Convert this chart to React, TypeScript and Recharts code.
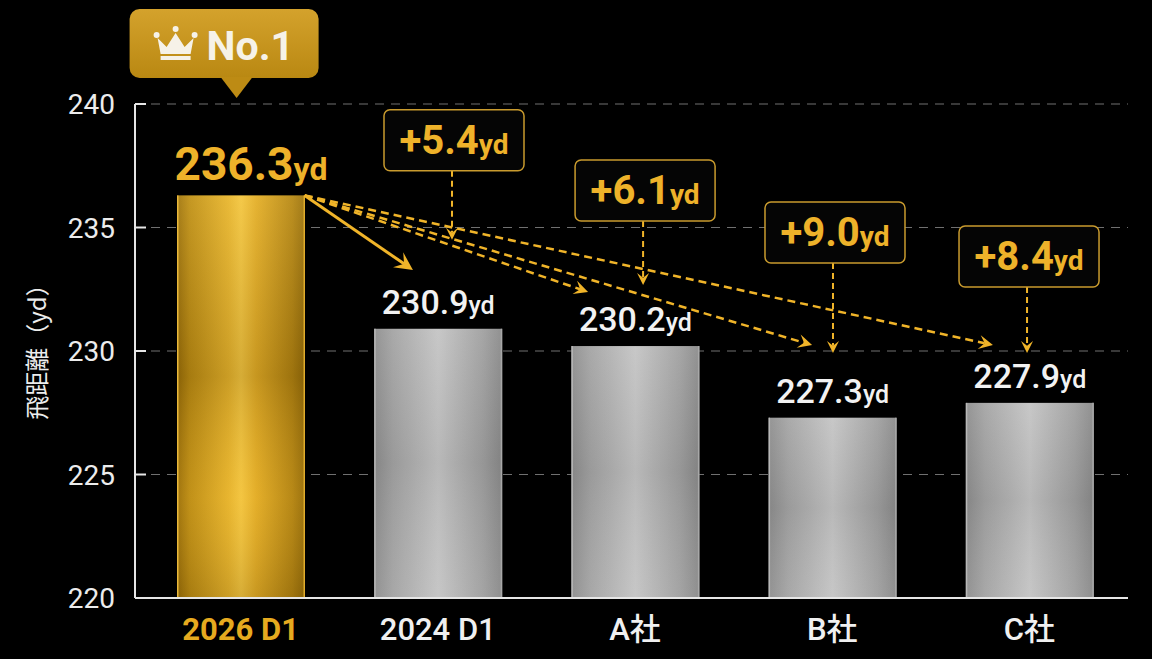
import React from 'react'
import {
  BarChart,
  Bar,
  XAxis,
  YAxis,
  CartesianGrid,
  LabelList,
  ReferenceLine,
  ReferenceDot,
} from 'recharts'

const CATEGORIES = ['2026 D1', '2024 D1', 'A社', 'B社', 'C社']
const DISTANCES = [236.3, 230.9, 230.2, 227.3, 227.9]
const Y_TICKS = [220, 225, 230, 235, 240]
const UNIT = 'yd'
const AXIS_TITLE = '飛距離（yd）'
const BADGE_TEXT = 'No.1'

// callout placement in chart units: x on the hidden 0..5 slot axis, y in yards
const RAY_START_X = 0.825
const RAY_END_X = [1.374, 2.262, 3.398, 4.315]
const RAY_END_Y = [233.28, 232.39, 230.24, 230.24]
const CALLOUT_X = [1.572, 2.541, 3.504, 4.488]
const CALLOUT_BOX_BOTTOM = [237.3, 235.26, 233.56, 232.59]
const CALLOUT_TIP = [234.5, 232.67, 229.92, 229.92]

const GOLD = '#f0b429'
const GOLD_TEXT = '#eeb22a'
const FONT = "Roboto, 'Noto Sans CJK JP', sans-serif"

const data = CATEGORIES.map((name, i) => ({ name, value: DISTANCES[i], slot: i + 0.5 }))

function ArrowLine({ x1, y1, x2, y2, width = 2.5, dash, head = 14 }: any) {
  const ang = Math.atan2(y2 - y1, x2 - x1)
  const c = Math.cos(ang)
  const s = Math.sin(ang)
  const bx = x2 - c * head
  const by = y2 - s * head
  const nx = x2 - c * head * 0.6
  const ny = y2 - s * head * 0.6
  const hw = head * 0.5
  const pts = [
    [x2, y2],
    [bx - s * hw, by + c * hw],
    [nx, ny],
    [bx + s * hw, by - c * hw],
  ]
  return (
    <g>
      <line
        x1={x1}
        y1={y1}
        x2={nx}
        y2={ny}
        stroke={GOLD}
        strokeWidth={width}
        strokeDasharray={dash}
      />
      <polygon points={pts.map((p) => p.join(',')).join(' ')} fill={GOLD} />
    </g>
  )
}

function BarShape(props: any) {
  const { x, y, width, height } = props
  const first = props.index === 0 || props.payload?.name === CATEGORIES[0]
  if (!height || height <= 0) return null
  return (
    <g>
      <rect x={x} y={y} width={width} height={height} fill={first ? 'url(#goldBar)' : 'url(#grayBar)'} />
      <rect x={x} y={y} width={width} height={height} fill={first ? 'url(#goldShade)' : 'url(#grayShade)'} />
      <line x1={x + 0.75} y1={y} x2={x + 0.75} y2={y + height} stroke={first ? '#e9b83a' : '#b8b8b8'} strokeWidth={1.5} />
      <line x1={x + width - 0.75} y1={y} x2={x + width - 0.75} y2={y + height} stroke={first ? '#e0ac2c' : '#a8a8a8'} strokeWidth={1.5} />
    </g>
  )
}

function ValueLabel(props: any) {
  const vb = props.viewBox || {}
  const x = typeof props.x === 'number' ? props.x : vb.x
  const y = typeof props.y === 'number' ? props.y : vb.y
  const w = typeof props.width === 'number' ? props.width : vb.width
  const first = props.index === 0
  const v = Number(props.value)
  return (
    <text
      x={x + w / 2 + (first ? 10 : 0)}
      y={y - 15}
      textAnchor="middle"
      fontFamily={FONT}
      fontWeight={first ? 700 : 500}
      fill={first ? GOLD_TEXT : '#f2f2f2'}
    >
      <tspan fontSize={first ? 46 : 34}>{v.toFixed(1)}</tspan>
      <tspan fontSize={first ? 32 : 25}>{UNIT}</tspan>
    </text>
  )
}

function XTick(props: any) {
  const { x, y, payload } = props
  const first = payload.value === CATEGORIES[0]
  return (
    <text
      x={x}
      y={y}
      dy={42}
      textAnchor="middle"
      fontFamily={FONT}
      fontSize={31}
      fontWeight={first ? 700 : 500}
      fill={first ? '#e6aa1f' : '#f0f0f0'}
    >
      {payload.value}
    </text>
  )
}

function YTick(props: any) {
  const { x, y, payload } = props
  return (
    <g>
      <text x={x} y={y} dy={10} textAnchor="end" fontFamily={FONT} fontSize={28} fill="#ececec">
        {payload.value}
      </text>
      <line x1={x + 20} y1={y} x2={x + 31} y2={y} stroke="#e6e6e6" strokeWidth={2} />
    </g>
  )
}

function AxisTitle(props: any) {
  const vb = props.viewBox || {}
  const cy = vb.y != null ? vb.y + vb.height / 2 : 351
  const cx = 35
  return (
    <text
      x={cx}
      y={cy - 5}
      transform={`rotate(-90, ${cx}, ${cy - 5})`}
      textAnchor="middle"
      dominantBaseline="central"
      fontFamily="'Noto Sans CJK JP', sans-serif"
      fontSize={24}
      fill="#ececec"
    >
      {AXIS_TITLE}
    </text>
  )
}

function Badge(props: any) {
  const { cx, cy } = props
  return (
    <g>
      <rect x={cx - 111} y={cy - 95} width={189} height={69} rx={10} fill="url(#badgeFill)" />
      <polygon
        points={`${cx - 20},${cy - 27} ${cx + 12},${cy - 27} ${cx - 4},${cy - 6}`}
        fill="#bd8b14"
      />
      <polygon
        points={[
          [cx - 83, cy - 66],
          [cx - 74, cy - 57],
          [cx - 65, cy - 71],
          [cx - 56, cy - 57],
          [cx - 47, cy - 66],
          [cx - 50, cy - 50],
          [cx - 80, cy - 50],
        ]
          .map((p) => p.join(','))
          .join(' ')}
        fill="#f6f2e8"
      />
      <circle cx={cx - 84} cy={cy - 69} r={3} fill="#f6f2e8" />
      <circle cx={cx - 65} cy={cy - 75} r={3} fill="#f6f2e8" />
      <circle cx={cx - 46} cy={cy - 69} r={3} fill="#f6f2e8" />
      <rect x={cx - 80} y={cy - 48} width={30} height={4} fill="#f6f2e8" />
      <text
        x={cx - 34}
        y={cy - 44}
        fontFamily={FONT}
        fontSize={41}
        fontWeight={700}
        fill="#f6f2e8"
      >
        {BADGE_TEXT}
      </text>
    </g>
  )
}

function Callout(props: any, i: number) {
  const { x1, y1, x2, y2 } = props
  const delta = (DISTANCES[0] - DISTANCES[i + 1]).toFixed(1)
  const bx = x1 + 2
  return (
    <g>
      <ArrowLine x1={x1} y1={y1} x2={x2} y2={y2} width={2} dash="6 4" head={12} />
      <rect
        x={bx - 70}
        y={y1 - 61}
        width={140}
        height={61}
        rx={6}
        fill="#050505"
        stroke="#c99b2e"
        strokeWidth={1.5}
      />
      <text
        x={bx}
        y={y1 - 17}
        textAnchor="middle"
        fontFamily={FONT}
        fontWeight={700}
        fill={GOLD_TEXT}
      >
        <tspan fontSize={40}>+{delta}</tspan>
        <tspan fontSize={28}>{UNIT}</tspan>
      </text>
    </g>
  )
}

export default function App() {
  return (
    <div
      style={{
        position: 'absolute',
        left: 0,
        top: 0,
        width: 1152,
        height: 659,
        background: '#000',
        fontFamily: FONT,
      }}
    >
      <BarChart
        width={1152}
        height={659}
        data={data}
        margin={{ top: 104, right: 24, bottom: 11, left: 0 }}
      >
        <defs>
          <linearGradient id="goldBar" x1="0" y1="0" x2="1" y2="0">
            <stop offset="0" stopColor="#9a6e08" />
            <stop offset="0.1" stopColor="#bd8c12" />
            <stop offset="0.4" stopColor="#e6b22a" />
            <stop offset="0.5" stopColor="#f3c43e" />
            <stop offset="0.62" stopColor="#e2ab24" />
            <stop offset="0.9" stopColor="#b38310" />
            <stop offset="1" stopColor="#966c08" />
          </linearGradient>
          <linearGradient id="goldShade" x1="0" y1="0" x2="0" y2="1">
            <stop offset="0" stopColor="#fff0a0" stopOpacity={0.12} />
            <stop offset="0.45" stopColor="#000" stopOpacity={0.12} />
            <stop offset="0.75" stopColor="#ffe080" stopOpacity={0.06} />
            <stop offset="1" stopColor="#000" stopOpacity={0.12} />
          </linearGradient>
          <linearGradient id="grayBar" x1="0" y1="0" x2="1" y2="0">
            <stop offset="0" stopColor="#8e8e8e" />
            <stop offset="0.15" stopColor="#a4a4a4" />
            <stop offset="0.5" stopColor="#c4c4c4" />
            <stop offset="0.85" stopColor="#a0a0a0" />
            <stop offset="1" stopColor="#8a8a8a" />
          </linearGradient>
          <linearGradient id="grayShade" x1="0" y1="0" x2="0" y2="1">
            <stop offset="0" stopColor="#fff" stopOpacity={0.06} />
            <stop offset="0.5" stopColor="#000" stopOpacity={0.06} />
            <stop offset="1" stopColor="#fff" stopOpacity={0.04} />
          </linearGradient>
          <linearGradient id="badgeFill" x1="0" y1="0" x2="0" y2="1">
            <stop offset="0" stopColor="#d4a22c" />
            <stop offset="1" stopColor="#b98812" />
          </linearGradient>
        </defs>
        <CartesianGrid vertical={false} stroke="#707070" strokeDasharray="9 7" />
        <XAxis
          dataKey="name"
          height={50}
          padding={{ left: 7, right: 0 }}
          axisLine={{ stroke: '#e6e6e6', strokeWidth: 2 }}
          tickLine={false}
          tickSize={0}
          tickMargin={0}
          interval={0}
          tick={XTick}
        />
        <XAxis
          xAxisId="pos"
          dataKey="slot"
          type="number"
          domain={[0, 5]}
          allowDataOverflow
          hide
          padding={{ left: 7, right: 0 }}
        />
        <YAxis
          width={135}
          domain={[220, 240]}
          ticks={Y_TICKS}
          interval={0}
          axisLine={{ stroke: '#e6e6e6', strokeWidth: 2 }}
          tickLine={false}
          tickSize={0}
          tickMargin={20}
          tick={YTick}
          label={{ content: AxisTitle }}
        />
        <Bar dataKey="value" barSize={128} isAnimationActive={false} shape={BarShape}>
          <LabelList dataKey="value" content={ValueLabel} />
        </Bar>
        {RAY_END_X.map((ex, i) => (
          <ReferenceLine
            key={`ray-${i}`}
            xAxisId="pos"
            segment={[
              { x: RAY_START_X, y: DISTANCES[0] },
              { x: ex, y: RAY_END_Y[i] },
            ]}
            shape={(p: any) => (
              <ArrowLine
                {...p}
                width={i === 0 ? 3 : 2.5}
                dash={i === 0 ? undefined : '8 5'}
                head={i === 0 ? 18 : 14}
              />
            )}
          />
        ))}
        {CALLOUT_X.map((cx, i) => (
          <ReferenceLine
            key={`callout-${i}`}
            xAxisId="pos"
            segment={[
              { x: cx, y: CALLOUT_BOX_BOTTOM[i] },
              { x: cx, y: CALLOUT_TIP[i] },
            ]}
            shape={(p: any) => Callout(p, i)}
          />
        ))}
        <ReferenceDot x={CATEGORIES[0]} y={240} shape={Badge} />
      </BarChart>
    </div>
  )
}
